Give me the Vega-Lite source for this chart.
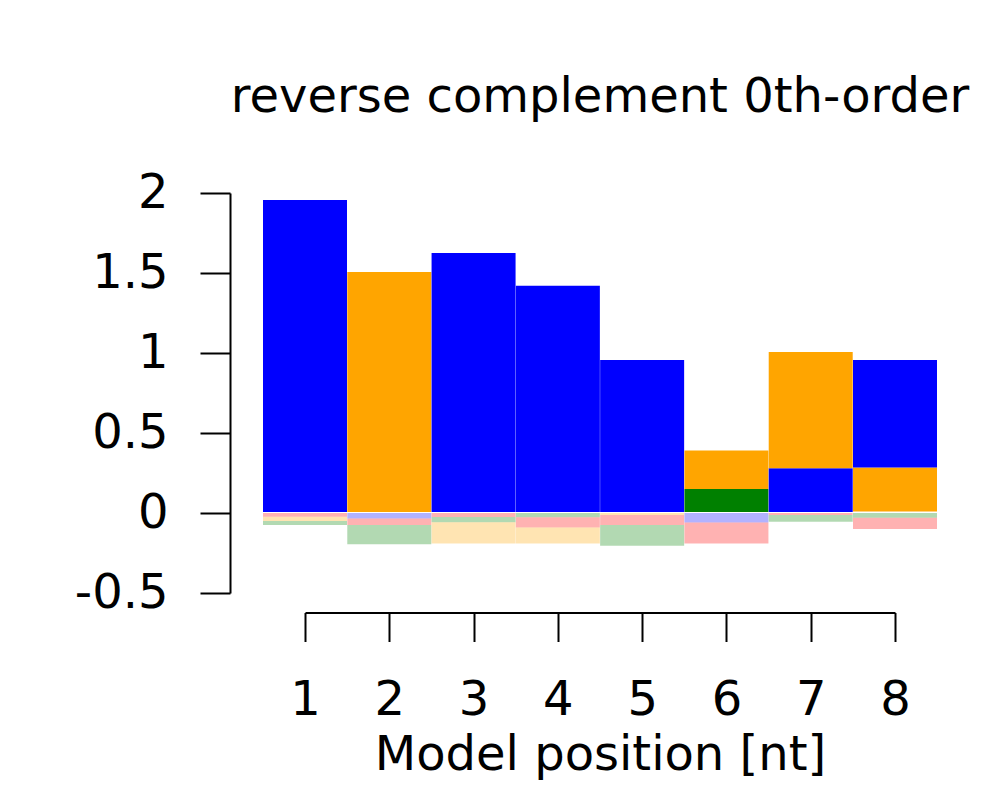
{
  "$schema": "https://vega.github.io/schema/vega-lite/v6.json",
  "autosize": {"type": "none"},
  "width": 590,
  "height": 400,
  "padding": {"left": 305, "top": 193, "right": 105, "bottom": 207},
  "background": "white",
  "config": {"view": {"stroke": null}, "font": "DejaVu Sans"},
  "title": {
    "text": "reverse complement 0th-order",
    "font": "DejaVu Sans",
    "fontSize": 48,
    "fontWeight": "normal",
    "color": "black",
    "frame": "group",
    "anchor": "middle",
    "baseline": "alphabetic",
    "offset": 9
  },
  "data": {
    "values": [
      {"pos": 1, "base": "C", "low": 0.006, "high": 1.956},
      {"pos": 1, "base": "T", "low": 0, "high": -0.023},
      {"pos": 1, "base": "G", "low": -0.023, "high": -0.05},
      {"pos": 1, "base": "A", "low": -0.05, "high": -0.075},
      {"pos": 2, "base": "G", "low": 0.006, "high": 1.506},
      {"pos": 2, "base": "C", "low": 0, "high": -0.035},
      {"pos": 2, "base": "T", "low": -0.035, "high": -0.075},
      {"pos": 2, "base": "A", "low": -0.075, "high": -0.195},
      {"pos": 3, "base": "C", "low": 0.006, "high": 1.625},
      {"pos": 3, "base": "T", "low": 0, "high": -0.025},
      {"pos": 3, "base": "A", "low": -0.025, "high": -0.058},
      {"pos": 3, "base": "G", "low": -0.058, "high": -0.19},
      {"pos": 4, "base": "C", "low": 0.006, "high": 1.42},
      {"pos": 4, "base": "A", "low": 0, "high": -0.027},
      {"pos": 4, "base": "T", "low": -0.027, "high": -0.09},
      {"pos": 4, "base": "G", "low": -0.09, "high": -0.19},
      {"pos": 5, "base": "C", "low": 0.006, "high": 0.956},
      {"pos": 5, "base": "G", "low": 0, "high": -0.012},
      {"pos": 5, "base": "T", "low": -0.012, "high": -0.075},
      {"pos": 5, "base": "A", "low": -0.075, "high": -0.205},
      {"pos": 6, "base": "A", "low": 0.006, "high": 0.15},
      {"pos": 6, "base": "G", "low": 0.15, "high": 0.39},
      {"pos": 6, "base": "C", "low": 0, "high": -0.06},
      {"pos": 6, "base": "T", "low": -0.06, "high": -0.19},
      {"pos": 7, "base": "C", "low": 0.006, "high": 0.28},
      {"pos": 7, "base": "G", "low": 0.28, "high": 1.006},
      {"pos": 7, "base": "T", "low": 0, "high": -0.012},
      {"pos": 7, "base": "A", "low": -0.012, "high": -0.055},
      {"pos": 8, "base": "G", "low": 0.01, "high": 0.285},
      {"pos": 8, "base": "C", "low": 0.285, "high": 0.956},
      {"pos": 8, "base": "A", "low": 0, "high": -0.03},
      {"pos": 8, "base": "T", "low": -0.03, "high": -0.1}
    ]
  },
  "mark": {"type": "bar", "width": 84, "stroke": null, "clip": false},
  "encoding": {
    "x": {
      "field": "pos",
      "type": "quantitative",
      "scale": {"domain": [1, 8], "nice": false, "zero": false, "padding": 0},
      "axis": {
        "values": [1, 2, 3, 4, 5, 6, 7, 8],
        "offset": 19.5,
        "grid": false,
        "domainColor": "black",
        "domainWidth": 2,
        "tickColor": "black",
        "tickWidth": 2,
        "tickSize": 29,
        "labelFont": "DejaVu Sans",
        "labelFontSize": 48,
        "labelColor": "black",
        "labelBaseline": "alphabetic",
        "labelPadding": 73,
        "labelFlush": false,
        "labelOverlap": false,
        "labelExpr": "'' + datum.value",
        "title": "Model position [nt]",
        "titleFont": "DejaVu Sans",
        "titleFontSize": 48,
        "titleFontWeight": "normal",
        "titleColor": "black",
        "titleBaseline": "alphabetic",
        "titleAnchor": "middle",
        "titleX": 295,
        "titleY": 157
      }
    },
    "y": {
      "field": "low",
      "type": "quantitative",
      "scale": {"domain": [-0.5, 2], "nice": false, "zero": false},
      "axis": {
        "values": [-0.5, 0, 0.5, 1, 1.5, 2],
        "offset": 75,
        "grid": false,
        "domainColor": "black",
        "domainWidth": 2,
        "tickColor": "black",
        "tickWidth": 2,
        "tickSize": 30,
        "labelFont": "DejaVu Sans",
        "labelFontSize": 48,
        "labelColor": "black",
        "labelPadding": 32,
        "labelBaseline": "middle",
        "labelFlush": false,
        "labelOverlap": false,
        "labelExpr": "'' + datum.value",
        "title": null
      }
    },
    "y2": {"field": "high"},
    "color": {
      "field": "base",
      "type": "nominal",
      "scale": {"domain": ["A", "C", "G", "T"], "range": ["#008000", "#0000FF", "#FFA500", "#FF0000"]},
      "legend": null
    },
    "opacity": {
      "condition": {"test": "datum.high <= 0", "value": 0.3},
      "value": 1
    }
  }
}
